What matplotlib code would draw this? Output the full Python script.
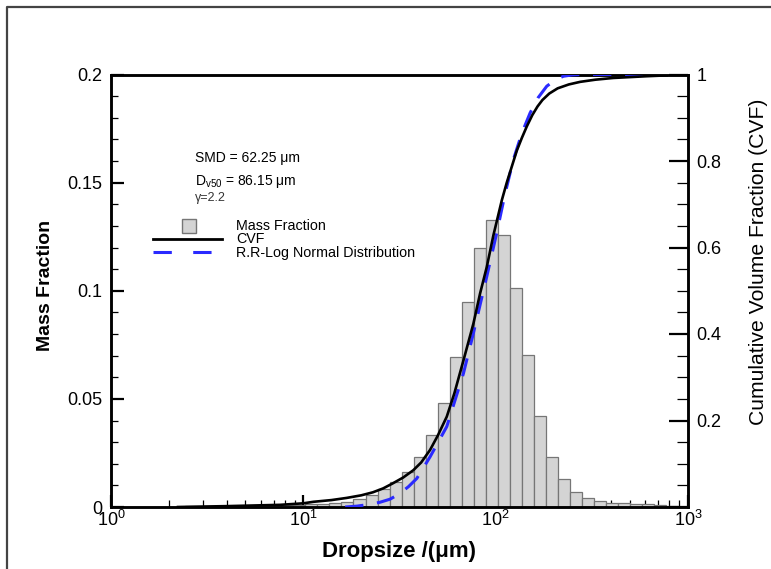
import numpy as np
import matplotlib
matplotlib.use("Agg")
import matplotlib.pyplot as plt
from matplotlib.lines import Line2D
from matplotlib.ticker import MultipleLocator, FixedLocator, LogLocator, NullFormatter

plt.rcParams['font.family'] = ['Liberation Sans', 'DejaVu Sans']
plt.rcParams['mathtext.fontset'] = 'custom'
plt.rcParams['mathtext.rm'] = 'Liberation Sans'
plt.rcParams['mathtext.it'] = 'Liberation Sans:italic'
plt.rcParams['mathtext.bf'] = 'Liberation Sans:bold'

# ---- data ----
# histogram bin edges (um) and mass fraction per bin
bin_edges = [2.430, 2.806, 3.241, 3.742, 4.322, 4.991, 5.763, 6.655, 7.686, 8.876,
             10.25, 11.84, 13.67, 15.78, 18.23, 21.05, 24.31, 28.07, 32.41, 37.43,
             43.22, 49.91, 57.63, 66.55, 76.86, 88.76, 102.5, 118.4, 136.7, 157.8,
             182.3, 210.5, 243.1, 280.7, 324.1, 374.3, 432.2, 499.1, 576.3, 665.5,
             768.6, 887.6]
mass_fraction = [0.0003, 0.0004, 0.0004, 0.0005, 0.0006, 0.0006, 0.0007, 0.0008, 0.0009, 0.0010,
                 0.0012, 0.0014, 0.0017, 0.0024, 0.0036, 0.0055, 0.0083, 0.0114, 0.0163, 0.0232,
                 0.0333, 0.0479, 0.0694, 0.0948, 0.1200, 0.1329, 0.1256, 0.1015, 0.0702, 0.0422,
                 0.0232, 0.0128, 0.0071, 0.0043, 0.0028, 0.0020, 0.0018, 0.0015, 0.0012, 0.0009,
                 0.0006]

# cumulative volume fraction (measured)
cvf_d = [2.23, 4.0, 7.57, 10.0, 11.27, 14.0, 16.8, 20.0, 23.0, 26.0, 29.0, 33.0, 37.3, 41.0,
         45.6, 50.0, 55.7, 61.0, 68.0, 76.6, 83.0, 89.9, 97.3, 107.6, 114.2, 128.8, 137.0,
         145.2, 155.0, 165.0, 175.0, 190.0, 210.0, 240.0, 275.0, 330.0, 409.0, 500.0, 610.0,
         776.0]
cvf_v = [0.0, 0.002, 0.005, 0.0085, 0.012, 0.016, 0.021, 0.027, 0.034, 0.043, 0.054, 0.068, 0.085,
         0.103, 0.132, 0.165, 0.209, 0.263, 0.339, 0.424, 0.494, 0.555, 0.628, 0.709, 0.750,
         0.824, 0.854, 0.880, 0.906, 0.926, 0.941, 0.956, 0.968, 0.977, 0.983, 0.988, 0.992,
         0.994, 0.996, 0.998]

# Rosin-Rammler / log-normal fit
rr_d = [16.5, 19.0, 22.0, 25.05, 28.2, 31.5, 35.2, 38.9, 45.6, 55.7, 68.0, 76.6, 89.9, 101.3,
        112.0, 123.6, 137.0, 151.0, 166.0, 184.4, 205.0, 225.0, 250.0, 275.0, 400.0, 560.0,
        770.0]
rr_v = [0.0, 0.002, 0.006, 0.011, 0.018, 0.030, 0.047, 0.066, 0.116, 0.186, 0.309, 0.402, 0.533,
        0.634, 0.725, 0.803, 0.865, 0.911, 0.946, 0.973, 0.988, 0.996, 0.999, 1.0, 1.0, 1.0,
        1.0]

left_ticks = [0, 0.05, 0.1, 0.15, 0.2]
left_labels = ['0', '0.05', '0.1', '0.15', '0.2']
right_ticks = [0.2, 0.4, 0.6, 0.8, 1.0]
right_labels = ['0.2', '0.4', '0.6', '0.8', '1']
legend_labels = ['Mass Fraction', 'CVF', 'R.R-Log Normal Distribution']

# ---- figure ----
W, H = 771, 569
fig = plt.figure(figsize=(W / 100, H / 100), dpi=100)
ax = fig.add_axes([111 / W, 1 - 507 / H, (688 - 111) / W, (507 - 74.5) / H])

BAR_FACE = '#d4d4d4'
BAR_EDGE = '#767676'
BLUE = '#2a2aff'

edges = np.array(bin_edges)
ax.bar(edges[:-1], mass_fraction, width=np.diff(edges), align='edge',
       color=BAR_FACE, edgecolor=BAR_EDGE, linewidth=0.9, zorder=2)

ax.set_xscale('log')
ax.set_xlim(1, 1000)
ax.set_ylim(0, 0.2)
ax.yaxis.set_major_locator(FixedLocator(left_ticks))
ax.set_yticklabels(left_labels)
ax.yaxis.set_minor_locator(MultipleLocator(0.01))
ax.xaxis.set_major_locator(LogLocator(base=10, numticks=10))
ax.xaxis.set_minor_locator(LogLocator(base=10, subs=np.arange(2, 10), numticks=20))
ax.xaxis.set_minor_formatter(NullFormatter())

ax2 = ax.twinx()
ax2.set_ylim(0, 1)
ax2.yaxis.set_major_locator(FixedLocator([0] + right_ticks))
ax2.set_yticklabels([''] + right_labels)
ax2.yaxis.set_minor_locator(MultipleLocator(0.05))

ln_rr, = ax2.plot(rr_d, rr_v, color=BLUE, lw=2.2, dashes=(6, 4.5), zorder=3)
ln_cvf, = ax2.plot(cvf_d, cvf_v, color='black', lw=1.9, zorder=4)

for a in (ax, ax2):
    for s in a.spines.values():
        s.set_linewidth(1.8)
        s.set_color('black')

ax.tick_params(axis='both', which='major', direction='in', length=9, width=1.6,
               labelsize=13, top=False, right=False)
ax.tick_params(axis='both', which='minor', direction='in', length=5, width=0.9,
               top=False, right=False)
ax.tick_params(axis='x', which='major', pad=2)
ax.tick_params(axis='y', which='major', pad=6)
ax2.tick_params(axis='y', which='major', direction='in', length=14, width=1.6,
                labelsize=13, pad=6)
ax2.tick_params(axis='y', which='minor', direction='in', length=8, width=0.9)

ax.set_xlabel('Dropsize /(μm)', fontsize=16, fontweight='bold', labelpad=8)
ax.set_ylabel('Mass Fraction', fontsize=14, fontweight='bold')
ax.yaxis.set_label_coords((54 - 111) / 577, (507 - 285) / 432.5)
ax2.set_ylabel('Cumulative Volume Fraction (CVF)', fontsize=15.2)
ax2.yaxis.set_label_coords((749 - 111) / 577, (507 - 262) / 432.5)

# annotations
fig.text(195 / W, 1 - 158 / H, 'SMD = 62.25 μm', fontsize=10, va='center')
fig.text(195 / W, 1 - 181 / H, r'D$_{\rm v50}$ = 86.15 μm', fontsize=10, va='center')
fig.text(195 / W, 1 - 198 / H, 'γ=2.2', fontsize=9, va='center', color='#333333')

# legend (drawn by hand to match the tight row spacing)
def fx(px):
    return px / W

def fy(py):
    return 1 - py / H

fig.add_artist(Line2D([fx(189)], [fy(226)], marker='s', markersize=10,
                      markerfacecolor=BAR_FACE, markeredgecolor=BAR_EDGE,
                      linestyle='none', transform=fig.transFigure))
fig.add_artist(Line2D([fx(153), fx(222)], [fy(239), fy(239)], color='black', lw=2.0,
                      transform=fig.transFigure))
fig.add_artist(Line2D([fx(153), fx(222)], [fy(252), fy(252)], color=BLUE, lw=2.2,
                      dashes=(6, 7), transform=fig.transFigure))
for lab, py in zip(legend_labels, [225.5, 239, 252.5]):
    fig.text(fx(236), fy(py), lab, fontsize=10.3, va='center')

# outer frame (cropped on right and bottom)
fig.add_artist(Line2D([7 / W, 7 / W, 1.0], [0.0, 1 - 7 / H, 1 - 7 / H],
                      transform=fig.transFigure, color='#444444', lw=1.6))

fig.savefig('out.png', dpi=100)
